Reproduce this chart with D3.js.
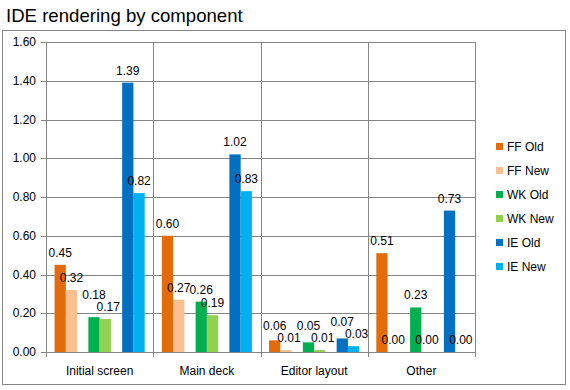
<!DOCTYPE html>
<html>
<head>
<meta charset="utf-8">
<script src="https://cdn.jsdelivr.net/npm/d3@7"></script>
<style>
  body { margin: 0; background: #fff; }
  text { font-family: "Liberation Sans", Arial, sans-serif; fill: #000; }
</style>
</head>
<body>
<div id="chart"></div>
<script>
// Chart data
var categories = ["Initial screen", "Main deck", "Editor layout", "Other"];
var seriesNames = ["FF Old", "FF New", "WK Old", "WK New", "IE Old", "IE New"];
var seriesColors = ["#E36C0A", "#FAC090", "#00B050", "#92D050", "#0070C0", "#00B0F0"];
var ffOld = [0.45, 0.60, 0.06, 0.51];
var ffNew = [0.32, 0.27, 0.01, 0.00];
var wkOld = [0.18, 0.26, 0.05, 0.23];
var wkNew = [0.17, 0.19, 0.01, 0.00];
var ieOld = [1.39, 1.02, 0.07, 0.73];
var ieNew = [0.82, 0.83, 0.03, 0.00];
var yTicks = [0, 0.2, 0.4, 0.6, 0.8, 1.0, 1.2, 1.4, 1.6];

var seriesValues = [ffOld, ffNew, wkOld, wkNew, ieOld, ieNew];
// slots inside each category, blank slots keep the browser pairs apart
var slots = ["FF Old", "FF New", "gap1", "WK Old", "WK New", "gap2", "IE Old", "IE New"];

var width = 570, height = 390;
var plot = { left: 46, right: 475, top: 42, bottom: 352 };

var svg = d3.select("#chart").append("svg")
    .attr("width", width)
    .attr("height", height);

// outer frame
svg.append("rect")
    .attr("x", 2.5).attr("y", 30.5)
    .attr("width", 563).attr("height", 354)
    .attr("fill", "none")
    .attr("stroke", "#868686");

svg.append("text")
    .attr("x", 6).attr("y", 22)
    .style("font-size", "18.6px")
    .text("IDE rendering by component");

var x = d3.scaleBand()
    .domain(categories)
    .range([plot.left, plot.right]);

var xInner = d3.scaleBand()
    .domain(slots)
    .range([0, x.bandwidth()])
    .paddingOuter(0.76);

var y = d3.scaleLinear()
    .domain([0, 1.6])
    .range([plot.bottom, plot.top]);

// horizontal gridlines
svg.append("g")
    .selectAll("line")
    .data(yTicks)
    .enter().append("line")
    .attr("x1", plot.left - 5)
    .attr("x2", plot.right)
    .attr("y1", d => Math.round(y(d)) + 0.5)
    .attr("y2", d => Math.round(y(d)) + 0.5)
    .attr("stroke", "#868686");

// vertical gridlines at category boundaries
var bounds = categories.map(c => x(c)).concat([plot.right]);
svg.append("g")
    .selectAll("line")
    .data(bounds)
    .enter().append("line")
    .attr("x1", d => Math.round(d) + 0.5)
    .attr("x2", d => Math.round(d) + 0.5)
    .attr("y1", plot.top)
    .attr("y2", plot.bottom + 5)
    .attr("stroke", "#868686");

// y tick labels
svg.append("g")
    .selectAll("text")
    .data(yTicks)
    .enter().append("text")
    .attr("x", 36)
    .attr("y", d => y(d) + 4)
    .attr("text-anchor", "end")
    .style("font-size", "12px")
    .text(d => d.toFixed(2));

// category labels
svg.append("g")
    .selectAll("text")
    .data(categories)
    .enter().append("text")
    .attr("x", d => x(d) + x.bandwidth() / 2)
    .attr("y", 375)
    .attr("text-anchor", "middle")
    .style("font-size", "12px")
    .text(d => d);

// bars
var bars = [];
seriesNames.forEach(function (s, si) {
    categories.forEach(function (c, ci) {
        var bx = x(c) + xInner(s);
        bars.push({
            series: s, si: si, cat: c, ci: ci, value: seriesValues[si][ci], color: seriesColors[si],
            lx: bx + xInner.bandwidth() / 2,
            ly: y(seriesValues[si][ci]) - 12   // label centre
        });
    });
});

// nudge labels of each old/new pair apart so they don't sit on each other
categories.forEach(function (c, ci) {
    [0, 2, 4].forEach(function (si) {
        var a = bars[si * categories.length + ci],
            b = bars[(si + 1) * categories.length + ci];
        if (a.value === 0 || b.value === 0) return;
        if (Math.abs(a.ly - b.ly) < 12) {
            a.ly = Math.min(a.ly, b.ly - 12);
            b.lx += 3;
        }
    });
});

svg.append("g")
    .selectAll("rect")
    .data(bars)
    .enter().append("rect")
    .attr("x", d => x(d.cat) + xInner(d.series))
    .attr("y", d => y(d.value))
    .attr("width", xInner.bandwidth())
    .attr("height", d => y(0) - y(d.value))
    .attr("fill", d => d.color);

// value labels
svg.append("g")
    .selectAll("text")
    .data(bars)
    .enter().append("text")
    .attr("x", d => d.lx)
    .attr("y", d => d.ly + 4)
    .attr("text-anchor", "middle")
    .style("font-size", "12px")
    .text(d => d.value.toFixed(2));

// legend
var legend = svg.append("g")
    .selectAll("g")
    .data(seriesNames)
    .enter().append("g")
    .attr("transform", (d, i) => "translate(496," + (147 + i * 24) + ")");

legend.append("rect")
    .attr("x", 0).attr("y", -4)
    .attr("width", 7).attr("height", 7)
    .attr("fill", (d, i) => seriesColors[i]);

legend.append("text")
    .attr("x", 11)
    .attr("y", 4)
    .style("font-size", "12px")
    .text(d => d);
</script>
</body>
</html>
